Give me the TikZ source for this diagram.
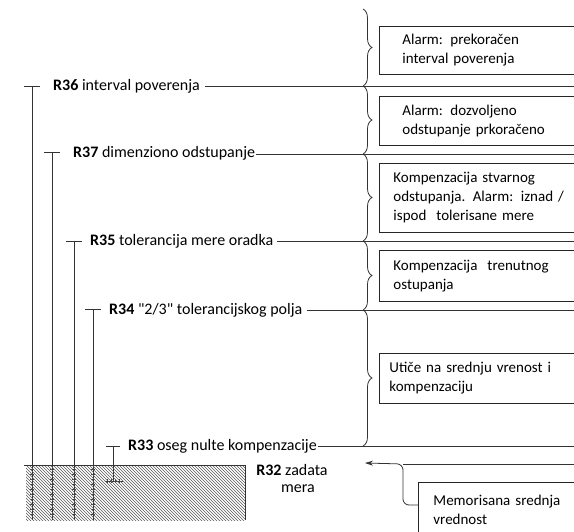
\documentclass[tikz,border=0pt]{standalone}
\usepackage{fontspec}
\setmainfont{Carlito}[Ligatures=TeXOff]
\usetikzlibrary{decorations.pathreplacing,patterns,arrows.meta}
\begin{document}
\begin{tikzpicture}[x=1pt,y=-1pt,
  ln/.style={draw=black!80, line width=0.8pt},
  thin ln/.style={draw=black!75, line width=0.5pt},
  lbl/.style={font=\fontsize{16}{19}\selectfont, inner sep=2pt, anchor=west},
  box/.style={draw=black!85, line width=0.9pt, anchor=north west, align=left, text width=220pt, font=\fontsize{15}{19}\selectfont, inner ysep=0pt},
  br/.style={draw=black!80, line width=0.8pt, decorate, decoration={brace, amplitude=9pt, aspect=0.5}},
]
\useasboundingbox (0,0) rectangle (574,532);
\clip (0,0) rectangle (574,532);

% right-side boxes
\node[box, inner xsep=23pt, minimum height=48pt] (m1) at (379,26) {Alarm: prekoračen\\interval poverenja};
\node[box, inner xsep=23pt, minimum height=49pt] (m2) at (379,96) {Alarm: dozvoljeno\\odstupanje prkoračeno};
\node[box, inner xsep=14pt, minimum height=69pt] (m3) at (379,163) {Kompenzacija stvarnog\\odstupanja. Alarm: iznad /\\ispod\ \ tolerisane mere};
\node[box, inner xsep=14pt, minimum height=51pt] (m4) at (379,250) {Kompenzacija\ \ trenutnog\\ostupanja};
\node[box, inner xsep=10pt, minimum height=50pt] (m5) at (379,353) {Utiče na srednju vrenost i\\kompenzaciju};
\node[box, inner xsep=15pt, minimum height=54pt] (m6) at (418,482) {Memorisana srednja\\vrednost};

% brace coordinates
\coordinate (b0) at (363,9);
\coordinate (b1) at (363,86);
\coordinate (b2) at (363,154);
\coordinate (b3) at (363,241);
\coordinate (b4) at (363,310);
\coordinate (b5) at (363,446);
\draw[br] (b0) -- (b1);
\draw[br] (b1) -- (b2);
\draw[br] (b2) -- (b3);
\draw[br] (b3) -- (b4);
\draw[br] (b4) -- (b5);

% right ends of level lines
\coordinate (e36) at (574,86);
\coordinate (e37) at (574,154);
\coordinate (e35) at (574,241);
\coordinate (e34) at (574,310);
\coordinate (e33) at (574,446);

% level labels
\node[lbl] (l36) at (51,86) {\textbf{R36} interval poverenja};
\node[lbl, inner xsep=1pt] (l37) at (72,153) {\textbf{R37} dimenziono odstupanje};
\node[lbl] (l35) at (88,241) {\textbf{R35} tolerancija mere oradka};
\node[lbl] (l34) at (107,310) {\textbf{R34} "2/3" tolerancijskog polja};
\node[lbl, inner xsep=1pt] (l33) at (127,446) {\textbf{R33} oseg nulte kompenzacije};

\draw[ln] ([xshift=3pt]l36.east) -- (e36);
\draw[ln] (l37.east |- e37) -- (e37);
\draw[ln] ([xshift=2pt]l35.east) -- (e35);
\draw[ln] ([xshift=2pt]l34.east) -- (e34);
\draw[ln] (l33.east) -- (e33);

% tolerance bars (T tops + vertical lines)
\coordinate (t36) at (32,86);
\coordinate (t37) at (52,152);
\coordinate (t35) at (74,241);
\coordinate (t34) at (93,309);
\foreach \c in {t36,t37,t35,t34}{
  \draw[ln] ([xshift=-8pt]\c) -- ([xshift=8pt]\c);
  \draw[ln] (\c) -- (\c |- 0,520);
  \foreach \yy in {469,474,...,517}{
    \draw[thin ln] ([xshift=-2pt]\c |- 0,\yy) -- ([xshift=2pt]\c |- 0,\yy);
  }
}

% R33 zero-compensation range
\coordinate (z1) at (113,446);
\coordinate (z2) at (113,481);
\draw[ln] ([xshift=-7pt]z1) -- ([xshift=7pt]z1);
\draw[ln] (z1) -- (z2);
\draw[ln] ([xshift=-8pt]z2) -- ([xshift=10pt]z2);
\foreach \xx in {107,111,115,119}{
  \draw[thin ln] (\xx,479) -- (\xx,483);
}

% hatched nominal area
\fill[pattern=north west lines, pattern color=black!65] (26,465) rectangle (245,520);
\draw[ln] (24,465) -- (245,465) -- (245,520);

% R32 label
\node[lbl, anchor=center] (r32) at (292,470) {\textbf{R32} zadata};
\node[lbl, anchor=center] (r32b) at (298,489) {mera};

% memorised mean value arrow
\coordinate (astart) at (m6.north west |- 0,505);
\coordinate (atip) at (365,463);
\coordinate (acorner) at (403,464);
\draw[ln, rounded corners=6pt, -{Stealth[length=8pt,width=5pt]}] (astart) -- (acorner |- astart) -- (acorner) -- (atip);
\draw[ln] (acorner) -- (574,464);
\end{tikzpicture}
\end{document}
